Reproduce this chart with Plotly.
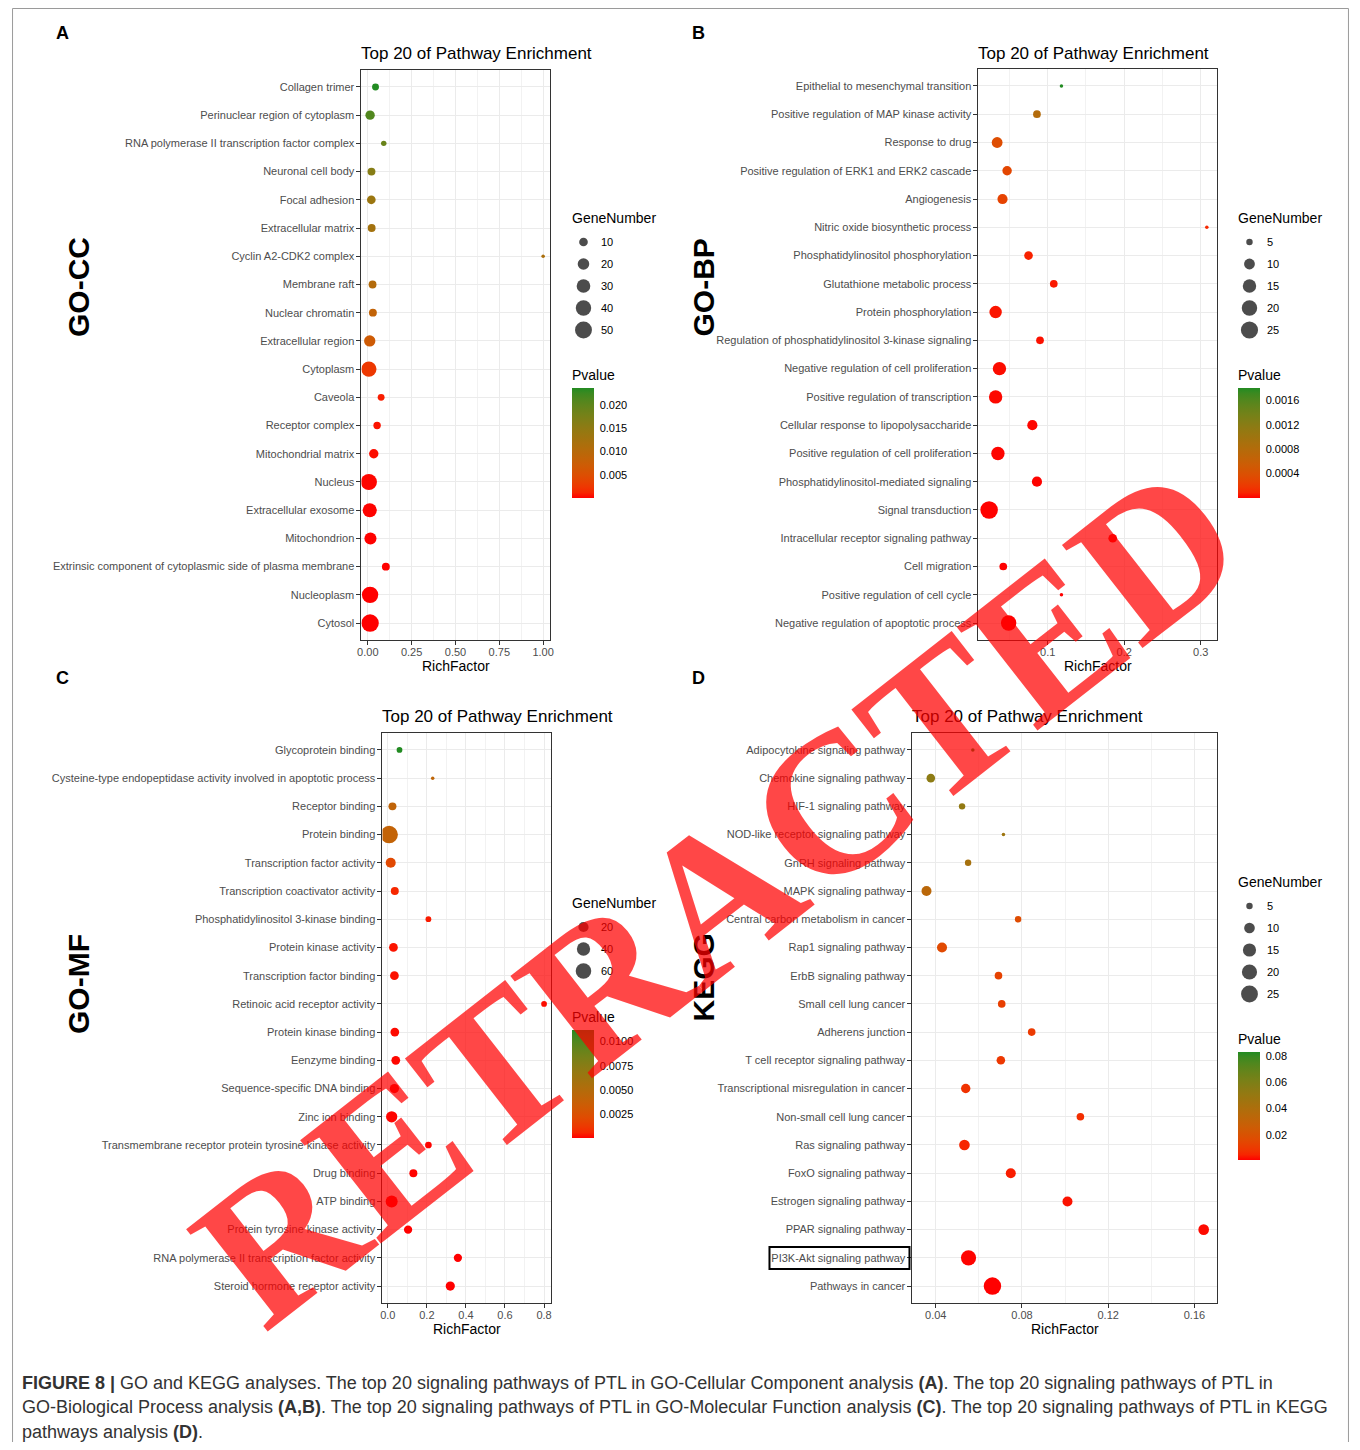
import numpy as np
import plotly.graph_objects as go

# ---------------- data ----------------
cc_terms = ["Collagen trimer", "Perinuclear region of cytoplasm", "RNA polymerase II transcription factor complex",
            "Neuronal cell body", "Focal adhesion", "Extracellular matrix", "Cyclin A2-CDK2 complex", "Membrane raft",
            "Nuclear chromatin", "Extracellular region", "Cytoplasm", "Caveola", "Receptor complex",
            "Mitochondrial matrix", "Nucleus", "Extracellular exosome", "Mitochondrion",
            "Extrinsic component of cytoplasmic side of plasma membrane", "Nucleoplasm", "Cytosol"]
cc_rich = [0.044, 0.013, 0.091, 0.021, 0.020, 0.022, 1.0, 0.027, 0.029, 0.011, 0.006, 0.076, 0.053, 0.034,
           0.006, 0.011, 0.015, 0.103, 0.013, 0.013]
cc_genes = [6, 12, 4, 8, 10, 8, 3, 8, 8, 19, 39, 6, 7, 12, 45, 32, 22, 8, 46, 54]
cc_p = [0.0236, 0.021, 0.019, 0.016, 0.0135, 0.0125, 0.0115, 0.0105, 0.0085, 0.007, 0.0025, 0.0009, 0.0006,
        0.0004, 0.0002, 0.0001, 0.00008, 0.00005, 0.00002, 0.00001]

bp_terms = ["Epithelial to mesenchymal transition", "Positive regulation of MAP kinase activity", "Response to drug",
            "Positive regulation of ERK1 and ERK2 cascade", "Angiogenesis", "Nitric oxide biosynthetic process",
            "Phosphatidylinositol phosphorylation", "Glutathione metabolic process", "Protein phosphorylation",
            "Regulation of phosphatidylinositol 3-kinase signaling", "Negative regulation of cell proliferation",
            "Positive regulation of transcription", "Cellular response to lipopolysaccharide",
            "Positive regulation of cell proliferation", "Phosphatidylinositol-mediated signaling",
            "Signal transduction", "Intracellular receptor signaling pathway", "Cell migration",
            "Positive regulation of cell cycle", "Negative regulation of apoptotic process"]
bp_rich = [0.118, 0.086, 0.034, 0.047, 0.041, 0.308, 0.075, 0.108, 0.032, 0.090, 0.037, 0.032, 0.080, 0.035,
           0.086, 0.0235, 0.185, 0.042, 0.118, 0.049]
bp_genes = [4, 6, 10, 8, 9, 4, 7, 6, 13, 6, 15, 15, 9, 15, 9, 26, 7, 6, 4, 20]
bp_p = [0.0018, 0.0008, 0.00036, 0.0003, 0.00027, 0.0001, 0.00008, 0.00006, 0.00005, 0.00004, 0.00003,
        0.00002, 0.000015, 0.00001, 0.000008, 0.000005, 0.000003, 0.000002, 0.000001, 0.0000005]

mf_terms = ["Glycoprotein binding", "Cysteine-type endopeptidase activity involved in apoptotic process",
            "Receptor binding", "Protein binding", "Transcription factor activity",
            "Transcription coactivator activity", "Phosphatidylinositol 3-kinase binding", "Protein kinase activity",
            "Transcription factor binding", "Retinoic acid receptor activity", "Protein kinase binding",
            "Eenzyme binding", "Sequence-specific DNA binding", "Zinc ion binding",
            "Transmembrane receptor protein tyrosine kinase activity", "Drug binding", "ATP binding",
            "Protein tyrosine kinase activity", "RNA polymerase II transcription factor activity",
            "Steroid hormone receptor activity"]
mf_rich = [0.060, 0.230, 0.024, 0.007, 0.015, 0.036, 0.208, 0.029, 0.034, 0.80, 0.036, 0.041, 0.034, 0.020,
           0.208, 0.131, 0.020, 0.104, 0.359, 0.320]
mf_genes = [4, 2, 10, 80, 19, 10, 4, 13, 13, 4, 13, 13, 15, 26, 6, 10, 31, 11, 11, 15]
mf_p = [0.0112, 0.0043, 0.0042, 0.0040, 0.0020, 0.0006, 0.0004, 0.0003, 0.00025, 0.0002, 0.00015, 0.0001,
        0.00008, 0.00006, 0.00004, 0.00003, 0.00002, 0.00001, 0.000005, 0.000002]

kegg_terms = ["Adipocytokine signaling pathway", "Chemokine signaling pathway", "HIF-1 signaling pathway",
              "NOD-like receptor signaling pathway", "GnRH signaling pathway", "MAPK signaling pathway",
              "Central carbon metabolism in cancer", "Rap1 signaling pathway", "ErbB signaling pathway",
              "Small cell lung cancer", "Adherens junction", "T cell receptor signaling pathway",
              "Transcriptional misregulation in cancer", "Non-small cell lung cancer", "Ras signaling pathway",
              "FoxO signaling pathway", "Estrogen signaling pathway", "PPAR signaling pathway",
              "PI3K-Akt signaling pathway", "Pathways in cancer"]
kegg_rich = [0.0572, 0.0377, 0.0522, 0.0714, 0.0550, 0.0357, 0.0782, 0.0429, 0.0691, 0.0706, 0.0845, 0.0702,
             0.0539, 0.1071, 0.0533, 0.0748, 0.1011, 0.1643, 0.0552, 0.0663]
kegg_genes = [4, 7, 5, 4, 5, 9, 5, 9, 6, 6, 6, 7, 8, 6, 10, 9, 9, 10, 20, 27]
kegg_p = [0.083, 0.054, 0.052, 0.047, 0.043, 0.034, 0.017, 0.016, 0.013, 0.012, 0.010, 0.0095, 0.008, 0.007,
          0.005, 0.004, 0.003, 0.002, 0.0012, 0.0009]

size_breaks = [[10, 20, 30, 40, 50], [5, 10, 15, 20, 25], [20, 40, 60], [5, 10, 15, 20, 25]]
cbar_ticks = [[0.005, 0.010, 0.015, 0.020], [0.0004, 0.0008, 0.0012, 0.0016],
              [0.0025, 0.0050, 0.0075, 0.0100], [0.02, 0.04, 0.06, 0.08]]
cbar_fmt = ["{:.3f}", "{:.4f}", "{:.4f}", "{:.2f}"]

# ---------------- helpers ----------------
W, H = 1344, 1434
X0S, XSC = 11.5, 0.99481   # observed screen placement of the figure (horizontal)
Y0S = 8


def px(x):
    return (x - X0S) / XSC / W


def py(y):
    return 1 - (y - Y0S) / H


def _lin(c):
    c = c / 255
    return c / 12.92 if c <= 0.04045 else ((c + 0.055) / 1.055) ** 2.4


def _gam(c):
    c = 12.92 * c if c <= 0.0031308 else 1.055 * c ** (1 / 2.4) - 0.055
    return int(min(255, max(0, round(c * 255))))


def rgb2lab(rgb):
    r, g, b = [_lin(v) for v in rgb]
    X = (0.4124 * r + 0.3576 * g + 0.1805 * b) / 0.95047
    Y = 0.2126 * r + 0.7152 * g + 0.0722 * b
    Z = (0.0193 * r + 0.1192 * g + 0.9505 * b) / 1.08883
    f = lambda t: t ** (1 / 3) if t > 0.008856 else 7.787 * t + 16 / 116
    a1, a2, a3 = f(X), f(Y), f(Z)
    return (116 * a2 - 16, 500 * (a1 - a2), 200 * (a2 - a3))


def lab2rgb(lab):
    L, a, b = lab
    fy_ = (L + 16) / 116
    fx_ = fy_ + a / 500
    fz_ = fy_ - b / 200
    finv = lambda t: t ** 3 if t ** 3 > 0.008856 else (t - 16 / 116) / 7.787
    X, Y, Z = finv(fx_) * 0.95047, finv(fy_), finv(fz_) * 1.08883
    r = 3.2406 * X - 1.5372 * Y - 0.4986 * Z
    g = -0.9689 * X + 1.8758 * Y + 0.0415 * Z
    bb = 0.0557 * X - 0.2040 * Y + 1.0570 * Z
    return tuple(_gam(max(0.0, v)) for v in (r, g, bb))


lo, hi = rgb2lab((255, 0, 0)), rgb2lab((34, 139, 34))
colorscale = []
for i in range(21):
    t = i / 20
    c = lab2rgb(tuple(lo[k] + (hi[k] - lo[k]) * t for k in range(3)))
    colorscale.append([t, "rgb(%d,%d,%d)" % c])


def diam(n, nmin, nmax):
    n = np.asarray(n, dtype=float)
    return (3.5 + 14 * np.sqrt(np.clip((n - nmin) / (nmax - nmin), 0, 1))).tolist()


FONT = "Liberation Sans, Arial, sans-serif"
TICKC = "#4D4D4D"
GRID = "#EBEBEB"
BORDER = "#333333"

panels = [
    dict(terms=cc_terms, rich=cc_rich, genes=cc_genes, p=cc_p, box=(361, 550, 70, 640),
         xr=[-0.036, 1.042], dt=0.25, fmt=".2f", leg_x=572, leg_top=205, bar=(388, 498), ty=53),
    dict(terms=bp_terms, rich=bp_rich, genes=bp_genes, p=bp_p, box=(978, 1217, 69, 640),
         xr=[0.0096, 0.3219], dt=0.1, fmt=".1f", leg_x=1238, leg_top=205, bar=(388, 498), ty=53),
    dict(terms=mf_terms, rich=mf_rich, genes=mf_genes, p=mf_p, box=(382, 551, 733, 1303),
         xr=[-0.027, 0.838], dt=0.2, fmt=".1f", leg_x=572, leg_top=890, bar=(1030, 1138), ty=716),
    dict(terms=kegg_terms, rich=kegg_rich, genes=kegg_genes, p=kegg_p, box=(912, 1217, 733, 1303),
         xr=[0.0292, 0.1707], dt=0.04, fmt=".2f", leg_x=1238, leg_top=869, bar=(1052, 1160), ty=716),
]

fig = go.Figure()
annotations = []
shapes = []
layout = {}


def note(x, y, text, size, color="black", xanchor="left", **kw):
    d = dict(x=px(x), y=py(y), xref="paper", yref="paper", xanchor=xanchor, yanchor="middle", text=text,
             showarrow=False, borderpad=0, borderwidth=0, font=dict(family=FONT, size=size, color=color))
    d.update(kw)
    annotations.append(d)


for i, P in enumerate(panels):
    k = i + 1
    sfx = "" if k == 1 else str(k)
    x0, x1, y0, y1 = P["box"]
    nmin, nmax = min(P["genes"]), max(P["genes"])
    fig.add_trace(go.Scatter(
        x=P["rich"], y=P["terms"], mode="markers", xaxis="x" + sfx, yaxis="y" + sfx,
        marker=dict(size=diam(P["genes"], nmin, nmax), color=P["p"], coloraxis="coloraxis" + sfx,
                    line=dict(width=0), opacity=1),
        showlegend=False, hoverinfo="x+y"))
    layout["xaxis" + sfx] = dict(
        domain=[px(x0), px(x1)], anchor="y" + sfx, range=P["xr"], tickmode="linear", tick0=0, dtick=P["dt"],
        tickformat=P["fmt"], showgrid=True, gridcolor=GRID, gridwidth=1.1, zeroline=False,
        minor=dict(tickmode="linear", tick0=0, dtick=P["dt"] / 2, showgrid=True, gridcolor="#F2F2F2",
                   gridwidth=0.6, ticks=""),
        ticks="outside", ticklen=4, tickcolor=BORDER, tickwidth=1, ticklabelstandoff=-2,
        tickfont=dict(family=FONT, size=11, color=TICKC),
        showline=True, mirror=True, linecolor=BORDER, linewidth=1)
    layout["yaxis" + sfx] = dict(
        domain=[py(y1), py(y0)], anchor="x" + sfx, type="category", categoryorder="array",
        categoryarray=P["terms"][::-1], range=[-0.6, len(P["terms"]) - 0.4],
        showgrid=True, gridcolor=GRID, gridwidth=1.1, zeroline=False,
        ticks="outside", ticklen=4, tickcolor=BORDER, tickwidth=1,
        tickfont=dict(family=FONT, size=11, color=TICKC),
        showline=True, mirror=True, linecolor=BORDER, linewidth=1)
    b0, b1 = P["bar"]
    cmin, cmax = min(P["p"]), max(P["p"])
    layout["coloraxis" + sfx] = dict(
        cmin=cmin, cmax=cmax, colorscale=colorscale,
        colorbar=dict(x=px(P["leg_x"]), xanchor="left", y=py(b1), yanchor="bottom", len=b1 - b0,
                      lenmode="pixels", thickness=22, thicknessmode="pixels", xpad=0, ypad=0,
                      outlinewidth=0, tickmode="array", tickvals=cbar_ticks[i],
                      ticktext=[cbar_fmt[i].format(v) for v in cbar_ticks[i]],
                      ticks="outside", ticklen=4, tickcolor="rgba(0,0,0,0)", tickwidth=1,
                      tickfont=dict(family=FONT, size=11, color="black"), title=dict(text="")))
    # white tick marks inside the colour bar (both edges)
    for v in cbar_ticks[i]:
        yy = b1 - (v - cmin) / (cmax - cmin) * (b1 - b0)
        for xa, xb in [(P["leg_x"], P["leg_x"] + 4.5), (P["leg_x"] + 17.5, P["leg_x"] + 22)]:
            shapes.append(dict(type="line", xref="paper", yref="paper", x0=px(xa), x1=px(xb), y0=py(yy),
                               y1=py(yy), line=dict(color="white", width=1)))
    note(x0, P["ty"], "Top 20 of Pathway Enrichment", 17)
    note((x0 + x1) / 2, y1 + 26, "RichFactor", 14, xanchor="center")
    lt = P["leg_top"]
    note(P["leg_x"], lt + 13, "GeneNumber", 14)
    note(P["leg_x"], b0 - 13, "Pvalue", 14)
    ys = [lt + 37 + 22 * j for j in range(len(size_breaks[i]))]
    fig.add_trace(go.Scatter(
        x=[P["leg_x"] + 11] * len(ys), y=ys, mode="markers", xaxis="x5", yaxis="y5",
        marker=dict(size=diam(size_breaks[i], nmin, nmax), color="black", line=dict(width=0)),
        showlegend=False, hoverinfo="skip", cliponaxis=False))
    for v, yy in zip(size_breaks[i], ys):
        note(P["leg_x"] + 29, yy, str(v), 11)

# overlay axis in screen pixels (used for the size-legend keys)
layout["xaxis5"] = dict(domain=[0, 1], range=[X0S, X0S + XSC * W], visible=False, anchor="y5")
layout["yaxis5"] = dict(domain=[0, 1], range=[Y0S + H, Y0S], visible=False, anchor="x5")

for lab, x, y in [("A", 62, 33), ("B", 698, 33), ("C", 62, 678), ("D", 698, 678)]:
    note(x, y, "<b>%s</b>" % lab, 18, xanchor="center")
for lab, x, y in [("GO-CC", 77.5, 287), ("GO-BP", 703, 287), ("GO-MF", 77.5, 984), ("KEGG", 703, 977)]:
    note(x, y, "<b>%s</b>" % lab, 30, xanchor="center", textangle=-90)

cap = ["<b>FIGURE 8 |</b> GO and KEGG analyses. The top 20 signaling pathways of PTL in GO-Cellular Component "
       "analysis <b>(A)</b>. The top 20 signaling pathways of PTL in",
       "GO-Biological Process analysis <b>(A,B)</b>. The top 20 signaling pathways of PTL in GO-Molecular Function "
       "analysis <b>(C)</b>. The top 20 signaling pathways of PTL in KEGG",
       "pathways analysis <b>(D)</b>."]
for line, y in zip(cap, [1383, 1407, 1432]):
    note(22, y, line, 18, color="#333333")

annotations.append(dict(x=px(717), y=py(894), xref="paper", yref="paper", xanchor="center", yanchor="middle",
                        text="<b>RETRACTED</b>", textangle=-38, showarrow=False,
                        font=dict(family="Liberation Serif, Times New Roman, serif", size=200,
                                  color="rgba(255,0,0,0.72)")))

shapes.append(dict(type="rect", xref="paper", yref="paper", x0=px(769), x1=px(909), y0=py(1269), y1=py(1247),
                   line=dict(color="black", width=2)))
shapes.append(dict(type="rect", xref="paper", yref="paper", x0=0.0004, x1=0.9996, y0=py(1446.5),
                   y1=py(8.5), line=dict(color="#9A9A9A", width=1)))

fig.update_layout(width=W, height=H, margin=dict(l=0, r=0, t=0, b=0), paper_bgcolor="white",
                  plot_bgcolor="rgba(0,0,0,0)", annotations=annotations, shapes=shapes, showlegend=False,
                  font=dict(family=FONT, color="black"), **layout)

fig.write_html("out.html")
